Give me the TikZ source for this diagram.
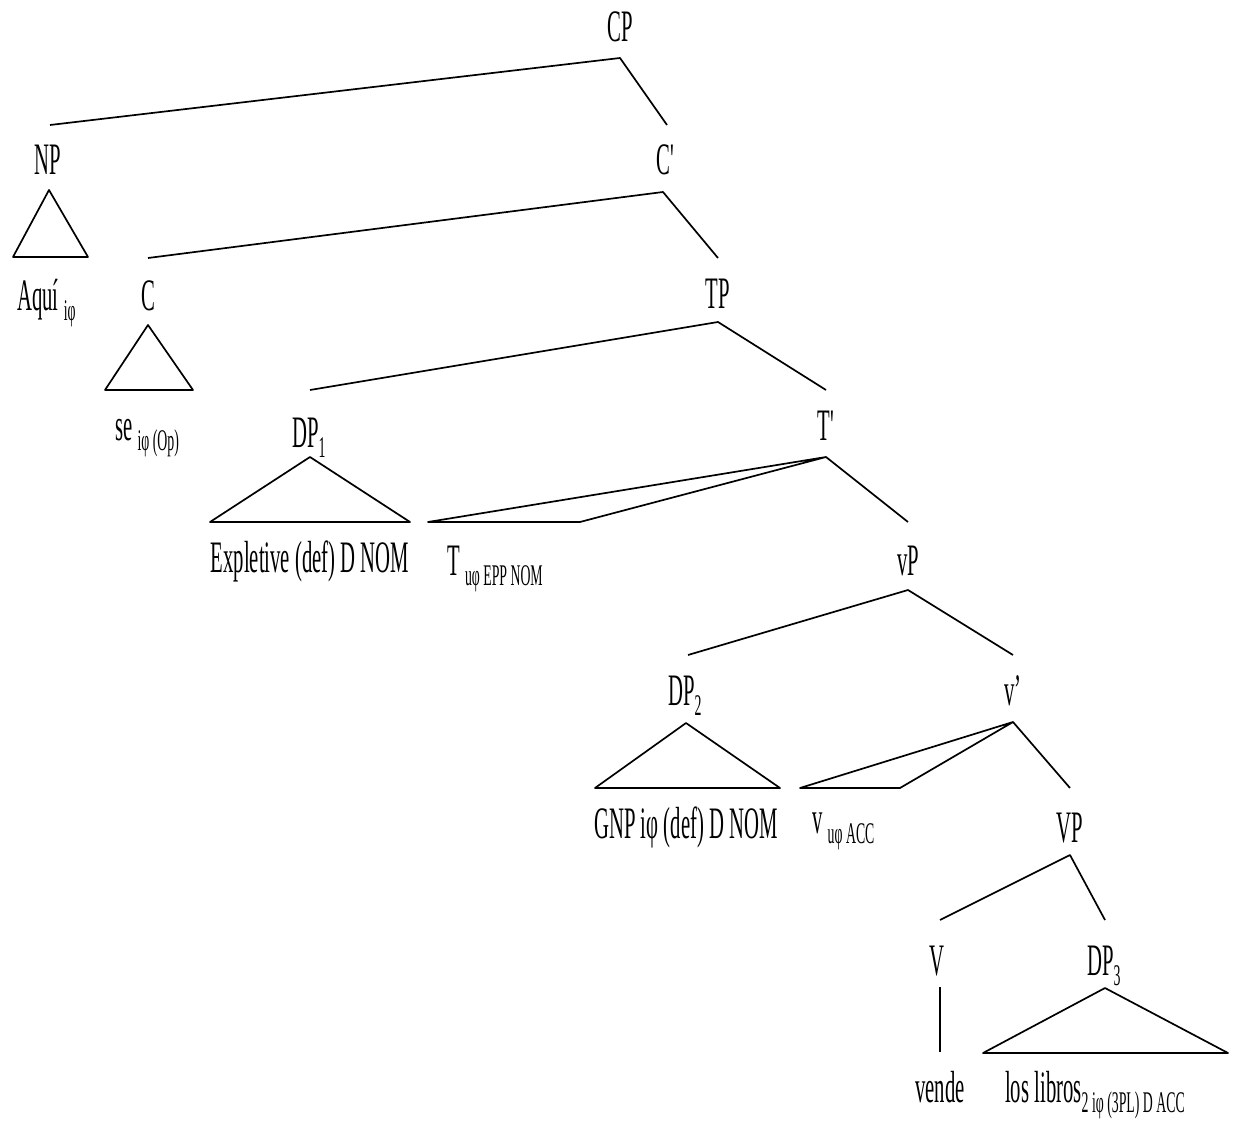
\documentclass[tikz,border=0pt]{standalone}
\usepackage{fontspec}
\newfontfamily\tf[FakeStretch=0.46]{Liberation Serif}
\newcommand{\sbs}[1]{\raisebox{-10pt}{\fontsize{30}{32}\selectfont #1}}
\tikzset{
  lab/.style={font=\tf\fontsize{45}{50}\selectfont, inner sep=0pt, anchor=base},
  labw/.style={lab, anchor=base west},
  br/.style={line width=1.7pt, line join=round},
}
\begin{document}
\begin{tikzpicture}[x=1pt,y=-1pt]
\useasboundingbox (0,0) rectangle (1233,1126);
% labels
\node[lab] (CP) at (620,42) {CP};
\node[lab] (NP) at (48,175) {NP};
\node[labw] (aqui) at (17,310) {Aquí \sbs{iφ}};
\node[lab] (Cbar) at (665,175) {C'};
\node[lab] (C) at (148,310) {C};
\node[labw] (se) at (115,440) {se \sbs{iφ (Op)}};
\node[lab] (TP) at (718,308) {TP};
\node[labw] (DP1) at (292,447) {DP\sbs{1}};
\node[lab] (expl) at (310,572) {Expletive (def) D NOM};
\node[lab] (Tbar) at (826,440) {T'};
\node[labw] (T) at (447,575) {T \sbs{uφ EPP NOM}};
\node[lab] (vP) at (908,575) {vP};
\node[labw] (DP2) at (668,705) {DP\sbs{2}};
\node[lab] (gnp) at (686,838) {GNP iφ (def) D NOM};
\node[lab] (vbar) at (1013,705) {v’};
\node[labw] (v) at (812,833) {v \sbs{uφ ACC}};
\node[lab] (VP) at (1070,842) {VP};
\node[lab] (V) at (937,975) {V};
\node[labw] (DP3) at (1087,975) {DP\sbs{3}};
\node[lab] (vende) at (940,1102) {vende};
\node[labw] (libros) at (1005,1102) {los libros\sbs{2 iφ (3PL) D ACC}};
% branch points
\coordinate (cp) at (620,58);
\coordinate (npT) at (50,125);
\coordinate (cbT) at (667,125);
\coordinate (cb) at (663,192);
\coordinate (cT) at (148,258);
\coordinate (tpT) at (718,258);
\coordinate (tp) at (718,322);
\coordinate (dp1T) at (310,390);
\coordinate (tbT) at (826,390);
\coordinate (tb) at (826,457);
\coordinate (vpT) at (908,522);
\coordinate (vp) at (908,590);
\coordinate (dp2T) at (688,655);
\coordinate (vbT) at (1013,655);
\coordinate (vb) at (1013,722);
\coordinate (VPT) at (1070,788);
\coordinate (VPb) at (1070,855);
\coordinate (VT) at (940,920);
\coordinate (dp3T) at (1105,920);
% tree lines
\draw[br] (npT) -- (cp) -- (cbT);
\draw[br] (cT) -- (cb) -- (tpT);
\draw[br] (dp1T) -- (tp) -- (tbT);
\draw[br] (tb) -- (vpT);
\draw[br] (dp2T) -- (vp) -- (vbT);
\draw[br] (vb) -- (VPT);
\draw[br] (VT) -- (VPb) -- (dp3T);
\draw[br] (940,987) -- (940,1052);
% triangles
\draw[br] (49,190) -- (13,257) -- (88,257) -- cycle;
\draw[br] (148,325) -- (105,390) -- (193,390) -- cycle;
\draw[br] (310,457) -- (210,522) -- (410,522) -- cycle;
\draw[br] (tb) -- (428,522) -- (580,522) -- cycle;
\draw[br] (686,723) -- (595,788) -- (780,788) -- cycle;
\draw[br] (vb) -- (800,788) -- (900,788) -- cycle;
\draw[br] (1105,988) -- (983,1053) -- (1228,1053) -- cycle;
\end{tikzpicture}
\end{document}
